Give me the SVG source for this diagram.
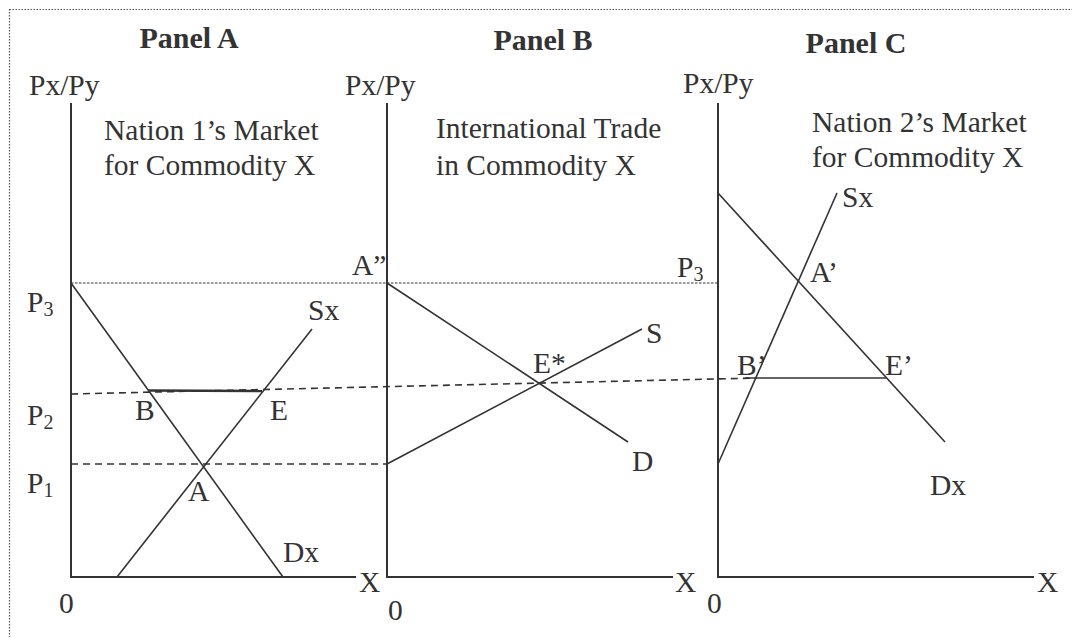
<svg xmlns="http://www.w3.org/2000/svg" width="1072" height="637" viewBox="0 0 1072 637">
<style>
text{font-family:"Liberation Serif","Times New Roman",serif;font-size:29.5px;fill:#333}
.b{font-weight:bold;font-size:30px;text-anchor:middle}
.s{font-size:20px}
.ax{stroke:#333;stroke-width:2;fill:none}
.cv{stroke:#333;stroke-width:1.6;fill:none}
.dot{stroke:#333;stroke-width:1;stroke-dasharray:2.5 1.5;fill:none}
.dash{stroke:#333;stroke-width:1.6;stroke-dasharray:7 5;fill:none}
.border{stroke:#555;stroke-width:1.2;stroke-dasharray:1.5 1.5;fill:none}
</style>
<rect class="border" x="9.5" y="9.5" width="1080" height="650"/>
<g id="connectors">
<line class="dot" x1="71" y1="283" x2="718" y2="283"/>
<line class="dash" x1="71" y1="464" x2="387" y2="464"/>
<line class="dash" x1="71" y1="394" x2="757" y2="378"/>
<line class="cv" x1="148" y1="390.5" x2="262" y2="391" style="stroke-width:2.4"/>
<line class="cv" x1="745" y1="378" x2="886" y2="378"/>
</g>
<g id="panelA">
<text class="b" x="189" y="48">Panel A</text>
<text x="29" y="95">Px/Py</text>
<text x="104" y="140">Nation 1’s Market</text>
<text x="104" y="175">for Commodity X</text>
<polyline class="ax" points="71,103 71,577 356,577"/>
<line class="cv" x1="71" y1="283" x2="283" y2="577"/>
<line class="cv" x1="117" y1="577" x2="312" y2="329"/>
<text x="27" y="312">P<tspan class="s" dy="4">3</tspan></text>
<text x="27" y="425">P<tspan class="s" dy="4">2</tspan></text>
<text x="27" y="493">P<tspan class="s" dy="4">1</tspan></text>
<text x="308" y="320">Sx</text>
<text x="135" y="420">B</text>
<text x="270" y="420">E</text>
<text x="188" y="501">A</text>
<text x="283" y="562">Dx</text>
<text x="359" y="592">X</text>
<text x="59" y="613">0</text>
</g>
<g id="panelB">
<text class="b" x="543" y="50">Panel B</text>
<text x="345" y="95">Px/Py</text>
<text x="436" y="138">International Trade</text>
<text x="436" y="175">in Commodity X</text>
<polyline class="ax" points="387,103 387,577 673,577"/>
<line class="cv" x1="387" y1="283" x2="628" y2="442"/>
<line class="cv" x1="387" y1="464" x2="642" y2="329"/>
<text x="352" y="275">A”</text>
<text x="533" y="373">E*</text>
<text x="646" y="343">S</text>
<text x="632" y="471">D</text>
<text x="675" y="592">X</text>
<text x="388" y="620">0</text>
</g>
<g id="panelC">
<text class="b" x="856" y="53">Panel C</text>
<text x="683" y="93">Px/Py</text>
<text x="812" y="132">Nation 2’s Market</text>
<text x="812" y="167">for Commodity X</text>
<polyline class="ax" points="718,103 718,577 1034,577"/>
<line class="cv" x1="718" y1="193" x2="945" y2="442"/>
<line class="cv" x1="718" y1="464" x2="837" y2="193"/>
<text x="677" y="277">P<tspan class="s" dy="4">3</tspan></text>
<text x="842" y="207">Sx</text>
<text x="810" y="282">A’</text>
<text x="737" y="375">B’</text>
<text x="885" y="375">E’</text>
<text x="930" y="495">Dx</text>
<text x="1037" y="592">X</text>
<text x="707" y="613">0</text>
</g>
</svg>
